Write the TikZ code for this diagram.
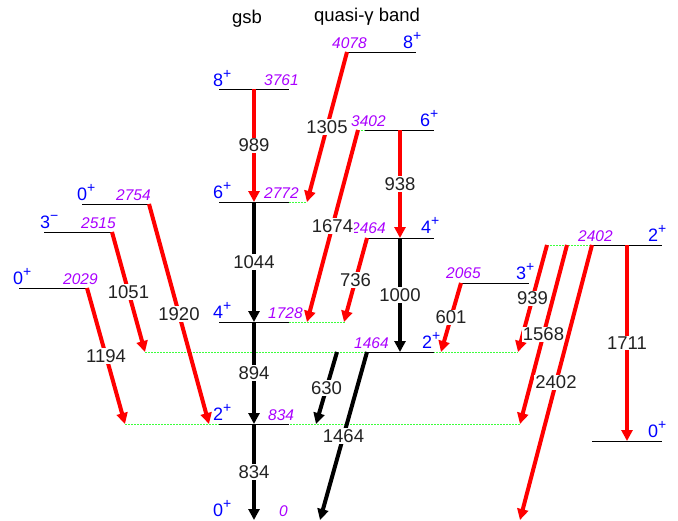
\documentclass[tikz,border=0pt]{standalone}
\usepackage{fontspec}
\setmainfont{Liberation Sans}
\usetikzlibrary{arrows.meta}
\definecolor{ered}{RGB}{255,0,0}
\definecolor{evio}{RGB}{170,0,255}
\definecolor{espin}{RGB}{0,0,255}
\definecolor{egreen}{RGB}{60,255,60}
\definecolor{etxt}{RGB}{34,34,34}
\newcommand{\spsup}[1]{\raisebox{0.42em}{\fontsize{14}{14}\selectfont #1}}
\begin{document}
\begin{tikzpicture}[x=1pt,y=-1pt,
  lev/.style={line width=0.9pt, black},
  gdot/.style={egreen, line width=1pt, dash pattern=on 1.5pt off 1.5pt},
  trans/.style={line width=4pt, -{Triangle[length=11pt,width=11pt]}},
  etwo/.style={trans, ered},
  mone/.style={trans, black},
  lab/.style={fill=white, inner sep=1pt, text=etxt, font=\fontsize{18.5}{20}\selectfont},
  spin/.style={text=espin, font=\fontsize{18}{20}\selectfont, inner sep=0pt, anchor=base west},
  en/.style={text=evio, font=\fontsize{15.5}{18}\selectfont\itshape, inner sep=0pt, anchor=base west},
  head/.style={text=black, font=\fontsize{18.5}{20}\selectfont, inner sep=0pt},
]
\useasboundingbox (0,0) rectangle (678,520);

% band headers
\node[head] (hgsb) at (247,19) {gsb};
\node[head] (hgam) at (367,17) {quasi-γ band};

% green dotted extensions
\draw[gdot] (289,202) -- (307,202);
\draw[gdot] (289,322) -- (345,322);
\draw[gdot] (145,352) -- (518,352);
\draw[gdot] (125,424) -- (520,424);
\draw[gdot] (358,130) -- (365,130);
\draw[gdot] (547,245) -- (592,245);

% levels
\draw[lev] (219,89) -- (289,89);
\draw[lev] (219,202) -- (289,202);
\draw[lev] (219,322) -- (289,322);
\draw[lev] (219,424) -- (289,424);
\draw[lev] (347,52) -- (416,52);
\draw[lev] (365,130) -- (434,130);
\draw[lev] (367,238) -- (434,238);
\draw[lev] (367,352) -- (434,352);
\draw[lev] (461,283) -- (529,283);
\draw[lev] (592,245) -- (662,245);
\draw[lev] (592,441) -- (662,441);
\draw[lev] (82,204) -- (149,204);
\draw[lev] (44,232) -- (112,232);
\draw[lev] (19,288) -- (87,288);

% spin labels
\node[spin] (s1) at (213,86) {8\spsup{+}};
\node[spin] (s2) at (213,198) {6\spsup{+}};
\node[spin] (s3) at (213,318) {4\spsup{+}};
\node[spin] (s4) at (213,420) {2\spsup{+}};
\node[spin] (s5) at (213,516) {0\spsup{+}};
\node[spin] (s6) at (403,48) {8\spsup{+}};
\node[spin] (s7) at (420,126) {6\spsup{+}};
\node[spin] (s8) at (421,233) {4\spsup{+}};
\node[spin] (s9) at (422,348) {2\spsup{+}};
\node[spin] (s10) at (516,279) {3\spsup{+}};
\node[spin] (s11) at (648,241) {2\spsup{+}};
\node[spin] (s12) at (648,437) {0\spsup{+}};
\node[spin] (s13) at (77,200) {0\spsup{+}};
\node[spin] (s14) at (40,228) {3\spsup{\char"2212}};
\node[spin] (s15) at (13,284) {0\spsup{+}};

% energy labels
\node[en] (e1) at (264,85) {3761};
\node[en] (e2) at (264,198) {2772};
\node[en] (e3) at (268,318) {1728};
\node[en] (e4) at (268,420) {834};
\node[en] (e5) at (279,516) {0};
\node[en] (e6) at (332,48) {4078};
\node[en] (e7) at (351,126) {3402};
\node[en] (e8) at (351,233) {2464};
\node[en] (e9) at (354,348) {1464};
\node[en] (e10) at (446,278) {2065};
\node[en] (e11) at (578,241) {2402};
\node[en] (e12) at (116,200) {2754};
\node[en] (e13) at (81,228) {2515};
\node[en] (e14) at (63,284) {2029};

% transition end points
\coordinate (a1) at (254,89);   \coordinate (b1) at (254,202);
\coordinate (a2) at (347,52);   \coordinate (b2) at (307,202);
\coordinate (a3) at (254,202);  \coordinate (b3) at (254,322);
\coordinate (a4) at (358,130);  \coordinate (b4) at (307,322);
\coordinate (a5) at (400,130);  \coordinate (b5) at (400,238);
\coordinate (a6) at (367,238);  \coordinate (b6) at (344,322);
\coordinate (a7) at (400,238);  \coordinate (b7) at (400,352);
\coordinate (a8) at (254,322);  \coordinate (b8) at (254,424);
\coordinate (a9) at (337,352);  \coordinate (b9) at (316,424);
\coordinate (a10) at (367,352); \coordinate (b10) at (320,520);
\coordinate (a11) at (254,424); \coordinate (b11) at (254,520);
\coordinate (a12) at (112,232); \coordinate (b12) at (145,352);
\coordinate (a13) at (149,204); \coordinate (b13) at (209,424);
\coordinate (a14) at (87,288);  \coordinate (b14) at (125,424);
\coordinate (a15) at (461,283); \coordinate (b15) at (441,352);
\coordinate (a16) at (547,245); \coordinate (b16) at (518,352);
\coordinate (a17) at (567,245); \coordinate (b17) at (520,424);
\coordinate (a18) at (592,245); \coordinate (b18) at (520,520);
\coordinate (a19) at (627,245); \coordinate (b19) at (627,441);

% transitions
\draw[etwo] (a1) -- node[lab] (t1) {989} (b1);
\draw[etwo] (a2) -- node[lab] (t2) {1305} (b2);
\draw[mone] (a3) -- node[lab] (t3) {1044} (b3);
\draw[etwo] (a4) -- node[lab] (t4) {1674} (b4);
\draw[etwo] (a5) -- node[lab] (t5) {938} (b5);
\draw[etwo] (a6) -- node[lab] (t6) {736} (b6);
\draw[mone] (a7) -- node[lab] (t7) {1000} (b7);
\draw[mone] (a8) -- node[lab] (t8) {894} (b8);
\draw[mone] (a9) -- node[lab] (t9) {630} (b9);
\draw[mone] (a10) -- node[lab] (t10) {1464} (b10);
\draw[mone] (a11) -- node[lab] (t11) {834} (b11);
\draw[etwo] (a12) -- node[lab] (t12) {1051} (b12);
\draw[etwo] (a13) -- node[lab] (t13) {1920} (b13);
\draw[etwo] (a14) -- node[lab] (t14) {1194} (b14);
\draw[etwo] (a15) -- node[lab] (t15) {601} (b15);
\draw[etwo] (a16) -- node[lab] (t16) {939} (b16);
\draw[etwo] (a17) -- node[lab] (t17) {1568} (b17);
\draw[etwo] (a18) -- node[lab] (t18) {2402} (b18);
\draw[etwo] (a19) -- node[lab] (t19) {1711} (b19);
\end{tikzpicture}
\end{document}
